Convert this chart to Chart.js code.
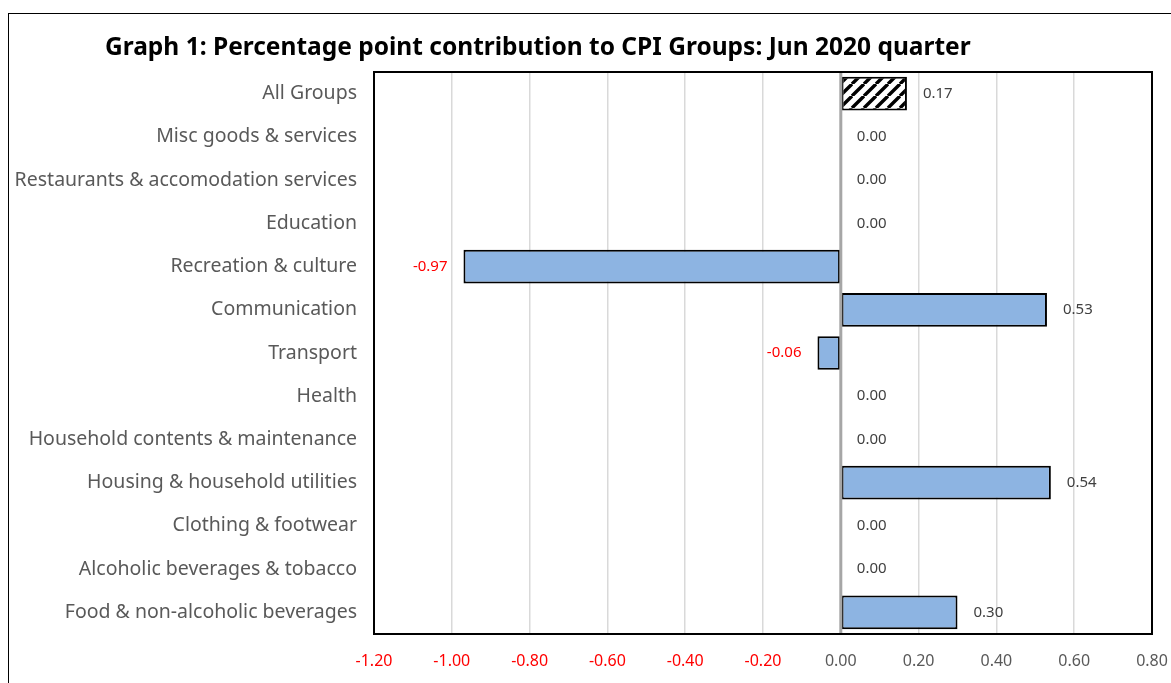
<!DOCTYPE html>
<html>
<head>
<meta charset="utf-8">
<script src="https://cdn.jsdelivr.net/npm/chart.js@4.4.1/dist/chart.umd.min.js"></script>
<style>
  html, body { margin: 0; padding: 0; background: #fff; overflow: hidden; }
  #frame { position: absolute; left: 8px; top: 13px; width: 1200px; height: 700px; border: 1.5px solid #000; }
  #wrap { position: absolute; left: 0; top: 0; width: 1171px; height: 683px; }
</style>
</head>
<body>
<div id="frame"></div>
<div id="wrap"><canvas id="cChart"></canvas></div>
<script>
// categories top to bottom, as in the graph
const groups = [
  "All Groups",
  "Misc goods & services",
  "Restaurants & accomodation services",
  "Education",
  "Recreation & culture",
  "Communication",
  "Transport",
  "Health",
  "Household contents & maintenance",
  "Housing & household utilities",
  "Clothing & footwear",
  "Alcoholic beverages & tobacco",
  "Food & non-alcoholic beverages"
];
const contributions = [0.17, 0.00, 0.00, 0.00, -0.97, 0.53, -0.06, 0.00, 0.00, 0.54, 0.00, 0.00, 0.30];
const xTicks = [-1.2, -1.0, -0.8, -0.6, -0.4, -0.2, 0.0, 0.2, 0.4, 0.6, 0.8];
const titleText = "Graph 1: Percentage point contribution to CPI Groups: Jun 2020 quarter";

const FONT = "'Noto Sans', sans-serif";

// hatch for the All Groups bar
function makeHatch(){
  const c = document.createElement('canvas');
  c.width = 12; c.height = 12;
  const g = c.getContext('2d');
  g.fillStyle = '#fff';
  g.fillRect(0, 0, 12, 12);
  g.strokeStyle = '#000';
  g.lineWidth = 3.4;
  g.beginPath();
  for (let k = -12; k <= 24; k += 12){
    g.moveTo(k, 12); g.lineTo(k + 12, 0);
  }
  g.stroke();
  return g.createPattern(c, 'repeat');
}
const hatch = makeHatch();

const fills = contributions.map((v, i) => i === 0 ? hatch : '#8DB4E2');

const titlePlugin = {
  id: 'titleText',
  afterDraw(chart){
    const ctx = chart.ctx;
    ctx.save();
    ctx.font = "bold 24.5px " + FONT;
    ctx.fillStyle = '#000';
    ctx.textAlign = 'left';
    ctx.textBaseline = 'middle';
    ctx.fillText(titleText, 105, 48);
    ctx.restore();
  }
};

// zero line, plot frame and value labels
const overlayPlugin = {
  id: 'overlay',
  afterDatasetsDraw(chart){
    const ctx = chart.ctx;
    const a = chart.chartArea;
    const x0 = chart.scales.x.getPixelForValue(0);
    ctx.save();
    ctx.strokeStyle = '#A6A6A6';
    ctx.lineWidth = 3;
    ctx.beginPath();
    ctx.moveTo(x0, a.top); ctx.lineTo(x0, a.bottom);
    ctx.stroke();

    ctx.strokeStyle = '#000';
    ctx.lineWidth = 2;
    ctx.strokeRect(a.left, a.top, a.right - a.left, a.bottom - a.top);

    ctx.font = "15px " + FONT;
    ctx.textBaseline = 'middle';
    chart.getDatasetMeta(0).data.forEach((el, i) => {
      const v = contributions[i];
      if (v < 0){
        ctx.fillStyle = '#FF0000';
        ctx.textAlign = 'right';
        ctx.fillText(v.toFixed(2), el.x - 16, el.y);
      } else {
        ctx.fillStyle = '#404040';
        ctx.textAlign = 'left';
        ctx.fillText(v.toFixed(2), el.x + 16, el.y);
      }
    });
    ctx.restore();
  }
};

new Chart(document.getElementById('cChart'), {
  type: 'bar',
  data: {
    labels: groups,
    datasets: [{
      data: contributions,
      backgroundColor: fills,
      borderColor: '#000',
      borderWidth: 2,
      borderSkipped: false,
      barPercentage: 0.78,
      categoryPercentage: 1
    }]
  },
  options: {
    indexAxis: 'y',
    responsive: true,
    maintainAspectRatio: false,
    animation: false,
    layout: { padding: { top: 72, right: 19, bottom: 0, left: 0 } },
    plugins: {
      legend: { display: false },
      tooltip: { enabled: false },
      title: { display: false }
    },
    scales: {
      x: {
        type: 'linear',
        min: -1.2,
        max: 0.8,
        afterBuildTicks(scale){ scale.ticks = xTicks.map(v => ({ value: v })); },
        afterFit(scale){
          scale.height = 49;
          scale.paddingLeft = 0;
          scale.paddingRight = 0;
        },
        border: { display: false },
        grid: { color: '#D9D9D9', lineWidth: 1.5, drawTicks: false },
        ticks: {
          padding: 18,
          font: { family: FONT, size: 16 },
          color: ctx => ctx.tick.value < 0 ? '#FF0000' : '#595959',
          callback: v => v.toFixed(2)
        }
      },
      y: {
        afterFit(scale){ scale.width = 374; },
        border: { display: false },
        grid: { display: false, drawTicks: false },
        ticks: {
          padding: 17,
          font: { family: FONT, size: 19.5 },
          color: '#595959'
        }
      }
    }
  },
  plugins: [titlePlugin, overlayPlugin]
});
</script>
</body>
</html>
